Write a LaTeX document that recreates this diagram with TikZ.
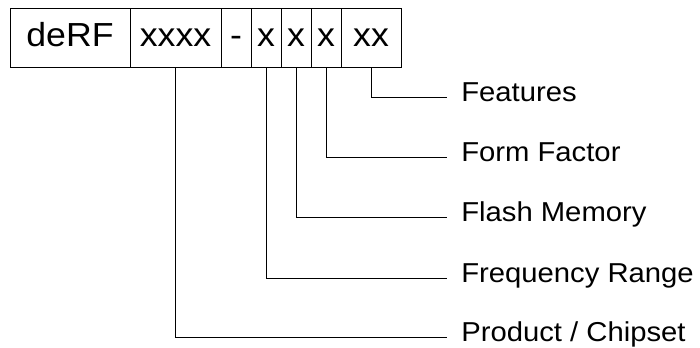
\documentclass[tikz,border=0pt]{standalone}
\usepackage{fontspec}
\setmainfont[FakeStretch=1.07]{Liberation Sans}
\usetikzlibrary{positioning}

\begin{document}
\begin{tikzpicture}[x=0.75pt,y=0.75pt,yscale=-1,xscale=1,
  cell/.style={draw,line width=0.75pt,rectangle,inner sep=0pt,outer sep=0pt,
    minimum height=44.25pt,text height=18pt,text depth=4pt,
    font=\fontsize{25pt}{30pt}\selectfont},
  lbl/.style={anchor=west,inner ysep=0pt,inner xsep=10.5pt,
    text height=10pt,text depth=4pt,
    font=\fontsize{20.5pt}{24pt}\selectfont},
  lead/.style={line width=0.75pt,black}]

\useasboundingbox (0,0) rectangle (700,347);

% part number
\node[cell, minimum width=90pt] (derf) at (70,37.5) {deRF};
\node[cell, minimum width=68.25pt, right=0pt of derf] (chip) {xxxx};
\node[cell, minimum width=22.5pt, right=0pt of chip] (dash) {-};
\node[cell, minimum width=22.5pt, right=0pt of dash] (freq) {x};
\node[cell, minimum width=22.5pt, right=0pt of freq] (flash) {x};
\node[cell, minimum width=22.5pt, right=0pt of flash] (form) {x};
\node[cell, minimum width=45pt, right=0pt of form] (feat) {xx};

% labels
\node[lbl] (lfeat) at (447, 97.5) {Features};
\node[lbl] (lform) at (447, 157.5) {Form Factor};
\node[lbl] (lflash) at (447, 217.5) {Flash Memory};
\node[lbl] (lfreq) at (447, 278) {Frequency Range};
\node[lbl] (lchip) at (447, 337.5) {Product / Chipset};

% leaders
\draw[lead] (feat.south) |- (lfeat.west);
\draw[lead] (form.south) |- (lform.west);
\draw[lead] (flash.south) |- (lflash.west);
\draw[lead] (freq.south) |- (lfreq.west);
\draw[lead] (chip.south) |- (lchip.west);

\end{tikzpicture}
\end{document}
